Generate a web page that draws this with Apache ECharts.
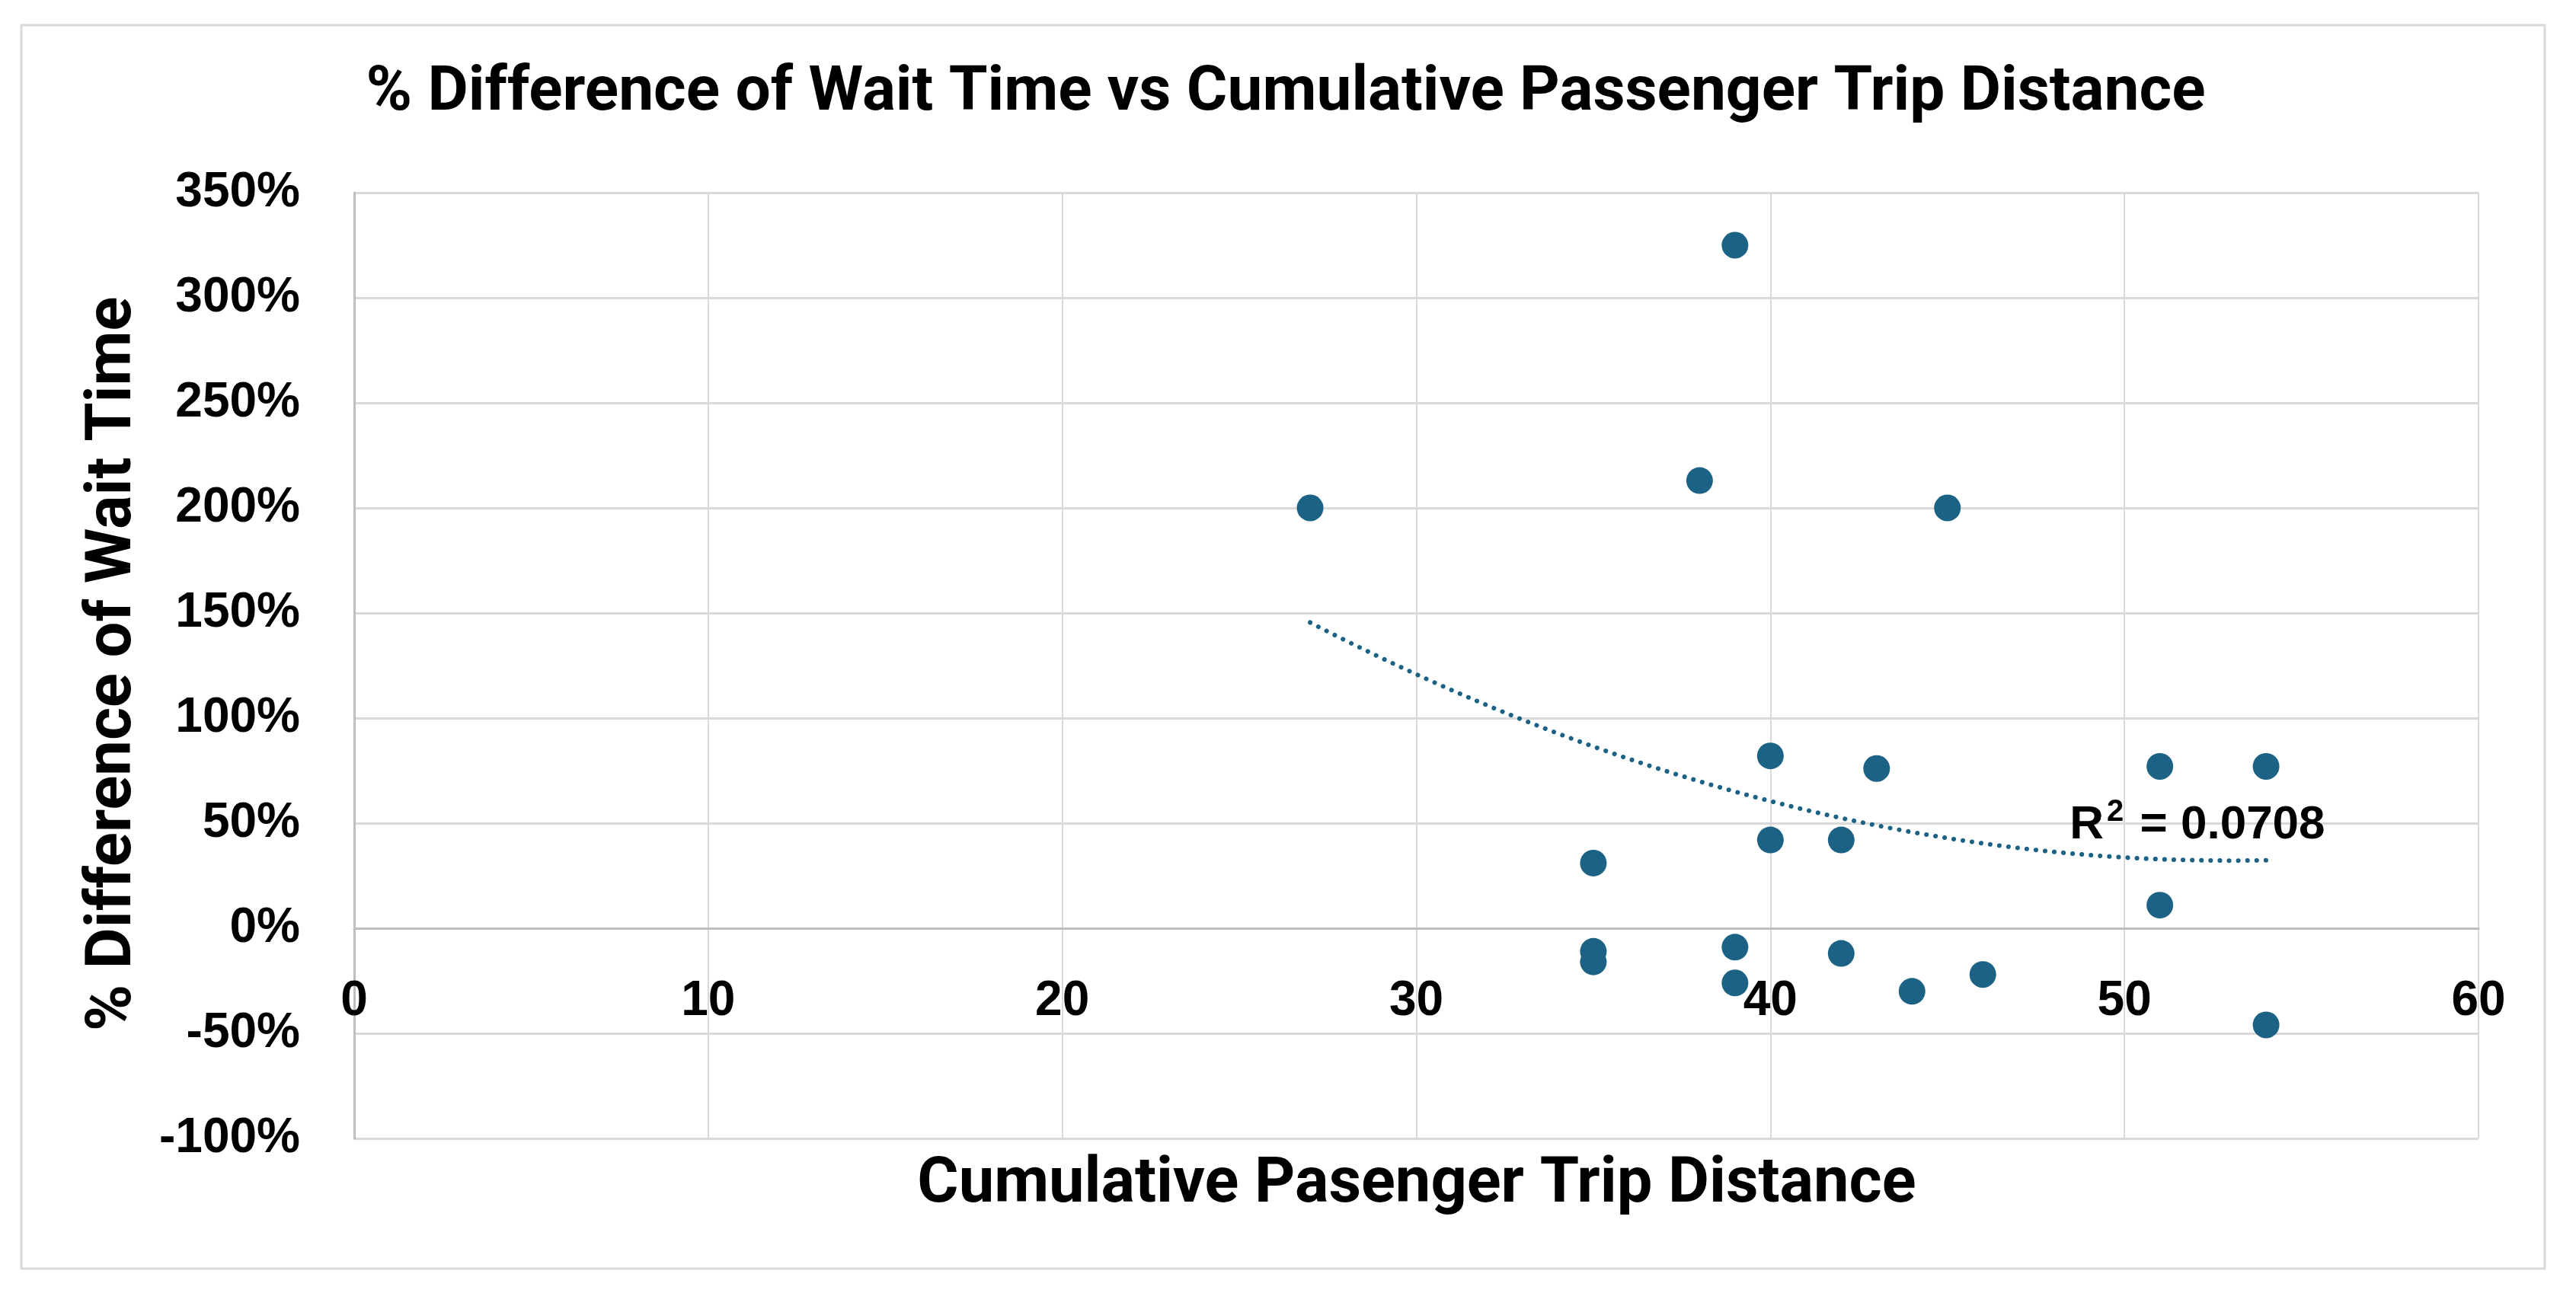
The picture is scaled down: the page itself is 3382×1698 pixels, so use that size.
<!DOCTYPE html>
<html>
<head>
<meta charset="utf-8">
<script src="https://cdn.jsdelivr.net/npm/echarts@6/dist/echarts.min.js"></script>
<style>
html,body{margin:0;padding:0;background:#fff;}
#c{width:3382px;height:1698px;}
</style>
</head>
<body>
<div id="c"></div>
<script>
// ---- data ----
const tripDistance = [27, 39, 38, 45, 40, 43, 51, 54, 35, 40, 42, 51, 35, 35, 39, 39, 42, 44, 46, 54];
const waitTimeDiffPct = [200, 325, 213, 200, 82, 76, 77, 77, 31, 42, 42, 11, -11, -16, -9, -26, -12, -30, -22, -46];
const xTicks = [0, 10, 20, 30, 40, 50, 60];
const yTicks = [-100, -50, 0, 50, 100, 150, 200, 250, 300, 350];
const r2Value = '0.0708';
const titleText = '% Difference of Wait Time vs Cumulative Passenger Trip Distance';
const xTitle = 'Cumulative Pasenger Trip Distance';
const yTitle = '% Difference of Wait Time';

// ---- polynomial (order 2) least-squares trendline from the data ----
function polyFit2(xs, ys) {
  let n = xs.length, s1 = 0, s2 = 0, s3 = 0, s4 = 0, t0 = 0, t1 = 0, t2 = 0;
  for (let i = 0; i < n; i++) {
    const x = xs[i], y = ys[i];
    s1 += x; s2 += x * x; s3 += x * x * x; s4 += x * x * x * x;
    t0 += y; t1 += x * y; t2 += x * x * y;
  }
  const M = [[n, s1, s2, t0], [s1, s2, s3, t1], [s2, s3, s4, t2]];
  for (let i = 0; i < 3; i++) {
    for (let k = i + 1; k < 3; k++) {
      const f = M[k][i] / M[i][i];
      for (let j = i; j < 4; j++) M[k][j] -= f * M[i][j];
    }
  }
  const c = [0, 0, 0];
  for (let i = 2; i >= 0; i--) {
    let s = M[i][3];
    for (let j = i + 1; j < 3; j++) s -= M[i][j] * c[j];
    c[i] = s / M[i][i];
  }
  return c;
}
const coef = polyFit2(tripDistance, waitTimeDiffPct);
const xmin = Math.min.apply(null, tripDistance), xmax = Math.max.apply(null, tripDistance);
const trend = [];
for (let i = 0; i <= 80; i++) {
  const x = xmin + (xmax - xmin) * i / 80;
  trend.push([x, coef[0] + coef[1] * x + coef[2] * x * x]);
}

const points = tripDistance.map((x, i) => [x, waitTimeDiffPct[i]]);
const mainColor = '#1b6284';
const labelFont = '"Liberation Sans", Arial, sans-serif';
const titleFont = 'Roboto, "Liberation Sans", Arial, sans-serif';

const gridTop = 253, gridBottom = 203, chartH = 1698;
const yMin = yTicks[0], yMax = yTicks[yTicks.length - 1];
const plotH = chartH - gridTop - gridBottom;
// lift the x axis (line + labels) up to the y = 0 position
const xAxisOffset = -plotH * (0 - yMin) / (yMax - yMin);

const chart = echarts.init(document.getElementById('c'), null, {renderer: 'canvas'});
chart.setOption({
  animation: false,
  backgroundColor: '#ffffff',
  grid: {left: 465, right: 128, top: gridTop, bottom: gridBottom, containLabel: false, outerBoundsMode: 'none'},
  xAxis: {
    type: 'value',
    position: 'bottom',
    offset: xAxisOffset,
    min: xTicks[0], max: xTicks[xTicks.length - 1], interval: 10,
    axisLine: {show: true, onZero: false, lineStyle: {color: '#bfbfbf', width: 3}},
    axisTick: {show: false},
    axisLabel: {
      margin: 64, color: '#000', fontFamily: labelFont, fontWeight: 'bold', fontSize: 64,
      formatter: v => String(v)
    },
    splitLine: {show: true, lineStyle: {color: '#d9d9d9', width: 2}}
  },
  yAxis: {
    type: 'value',
    min: yMin, max: yMax, interval: 50,
    axisLine: {show: true, onZero: false, lineStyle: {color: '#bfbfbf', width: 3}},
    axisTick: {show: false},
    axisLabel: {
      margin: 71, color: '#000', fontFamily: labelFont, fontWeight: 'bold', fontSize: 64,
      formatter: v => v + '%'
    },
    splitLine: {show: true, lineStyle: {color: '#d9d9d9', width: 3}}
  },
  graphic: [
    {type: 'rect', silent: true, z: -10,
     shape: {x: 28, y: 33, width: 3313, height: 1633},
     style: {fill: 'none', stroke: '#d9d9d9', lineWidth: 3}},
    {type: 'text', x: 1688, y: 123,
     style: {text: titleText, fill: '#000', font: 'bold 82px ' + titleFont, textAlign: 'center', textVerticalAlign: 'middle'}},
    {type: 'text', x: 1860, y: 1557,
     style: {text: xTitle, fill: '#000', font: 'bold 83px ' + titleFont, textAlign: 'center', textVerticalAlign: 'middle'}},
    {type: 'text', x: 150, y: 872, rotation: Math.PI / 2,
     style: {text: yTitle, fill: '#000', font: 'bold 83px ' + titleFont, textAlign: 'center', textVerticalAlign: 'middle'}}
  ],
  series: [
    {
      type: 'scatter',
      data: points,
      symbol: 'circle',
      symbolSize: 35,
      itemStyle: {color: mainColor, opacity: 1},
      z: 3
    },
    {
      type: 'line',
      data: trend,
      showSymbol: false,
      smooth: false,
      lineStyle: {color: mainColor, width: 6, type: [0.1, 12], cap: 'round', opacity: 1},
      z: 4,
      markPoint: {
        symbol: 'circle', symbolSize: 0,
        data: [{coord: [52.06, 49]}],
        label: {
          show: true, position: 'inside',
          formatter: '{b|R}{s|2}{b| = ' + r2Value + '}',
          rich: {
            b: {color: '#000', fontFamily: labelFont, fontWeight: 'bold', fontSize: 62},
            s: {color: '#000', fontFamily: labelFont, fontWeight: 'bold', fontSize: 40, padding: [0, 4, 34, 4]}
          }
        }
      }
    }
  ]
});
</script>
</body>
</html>
